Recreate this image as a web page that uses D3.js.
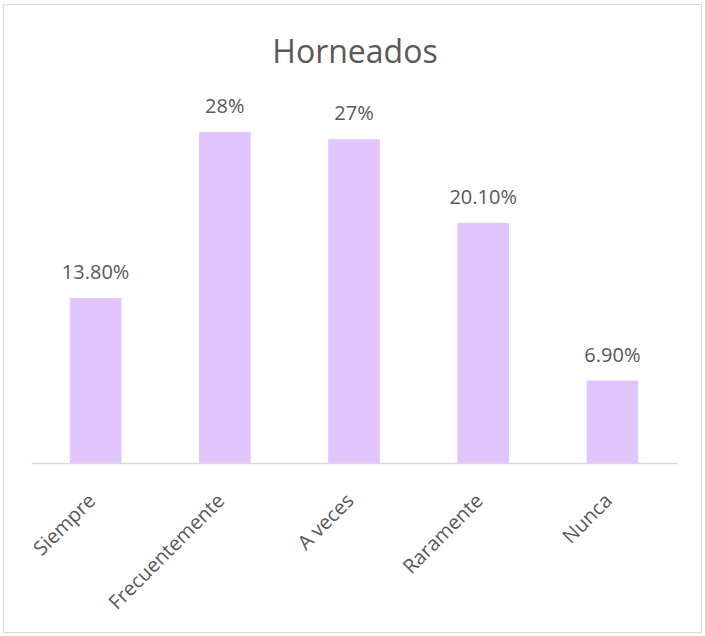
<!DOCTYPE html>
<html><head><meta charset="utf-8">
<script src="https://cdn.jsdelivr.net/npm/d3@7"></script>
<style>body{margin:0;background:#fff}svg{display:block}text{font-family:"Open Sans",sans-serif;fill:#595959}</style>
</head><body>
<svg id="c" width="705" height="636"></svg>
<script>
const categories = ["Siempre","Frecuentemente","A veces","Raramente","Nunca"];
const values = [13.8, 27.7, 27.1, 20.1, 6.9];
const valueLabels = ["13.80%","28%","27%","20.10%","6.90%"];
const title = "Horneados";

const svg = d3.select("#c");
svg.append("rect").attr("x",3.5).attr("y",4.5).attr("width",698).attr("height",628)
  .attr("fill","#fff").attr("stroke","#d9d9d9").attr("stroke-width",1);

const x = d3.scaleBand().domain(categories).range([31,677]).paddingInner(0.6).paddingOuter(0.3);
const y = d3.scaleLinear().domain([0,30]).range([463,104.5]);

svg.append("text").attr("x",355).attr("y",63).attr("text-anchor","middle")
  .attr("font-size",32).text(title);

svg.selectAll("rect.bar").data(values).enter().append("rect").attr("class","bar")
  .attr("x",(d,i)=>x(categories[i])).attr("width",x.bandwidth())
  .attr("y",d=>y(d)).attr("height",d=>y(0)-y(d)).attr("fill","#e0c5fe");

const ax = svg.append("g").attr("transform","translate(0,463)")
  .call(d3.axisBottom(x).tickSize(0).tickPadding(0));
ax.select(".domain").attr("stroke","#d9d9d9").attr("stroke-width",1.5);
ax.selectAll(".tick text").attr("font-size",20).attr("fill","#595959")
  .attr("text-anchor","end").attr("dy",0).attr("y",0)
  .attr("transform","translate(1,39) rotate(-45)");

svg.selectAll("text.lbl").data(values).enter().append("text").attr("class","lbl")
  .attr("x",(d,i)=>x(categories[i])+x.bandwidth()/2).attr("y",d=>y(d)-19)
  .attr("text-anchor","middle").attr("font-size",20).text((d,i)=>valueLabels[i]);
</script></body></html>
